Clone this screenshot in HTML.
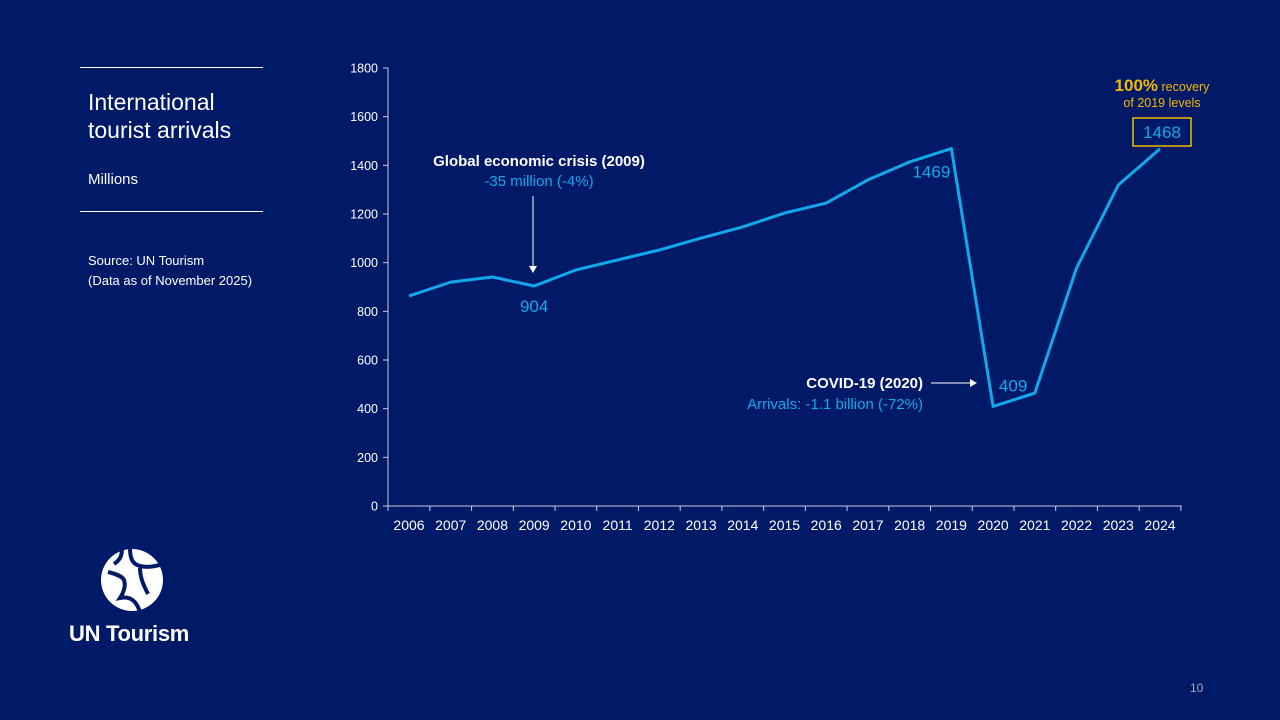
<!DOCTYPE html>
<html><head><meta charset="utf-8"><style>
body{margin:0;width:1280px;height:720px;background:#011a68;overflow:hidden;font-family:"Liberation Sans",Arial,sans-serif;position:relative;color:#fff}
.a{position:absolute}
</style></head><body>
<div class="a" style="left:80px;top:67px;width:183px;height:1px;background:#fff"></div>
<div class="a" style="left:88px;top:88px;font-size:23px;line-height:28px">International<br>tourist arrivals</div>
<div class="a" style="left:88px;top:171px;font-size:15px">Millions</div>
<div class="a" style="left:80px;top:211px;width:183px;height:1px;background:#fff"></div>
<div class="a" style="left:88px;top:251px;font-size:13px;line-height:20px">Source: UN Tourism<br>(Data as of November 2025)</div>
<svg class="a" style="left:100px;top:548px" width="64" height="64" viewBox="0 0 64 64">
<circle cx="32" cy="32" r="31" fill="#fff"/>
<path d="M22 0 C22 8 20 12 14 16 M30 0 C30 10 32 16 40 18 C48 20 56 18 64 16 M8 24 C16 26 22 28 24 32 C26 38 24 44 20 50 C30 48 36 52 40 64 M40 20 C40 30 44 38 48 46" stroke="#011a68" stroke-width="4" fill="none"/>
</svg>
<div class="a" style="left:69px;top:621px;font-size:22px;font-weight:bold;letter-spacing:-0.3px">UN Tourism</div>
<div class="a" style="left:1190px;top:681px;font-size:12px;color:#aab">10</div>
<svg id="chart" class="a" style="left:0;top:0" width="1280" height="720"></svg>
<script>
const years=["2006","2007","2008","2009","2010","2011","2012","2013","2014","2015","2016","2017","2018","2019","2020","2021","2022","2023","2024"];
const arrivals=[863,920,941,904,970,1011,1052,1101,1147,1204,1245,1340,1414,1469,409,464,978,1319,1468];
const yTicks=[0,200,400,600,800,1000,1200,1400,1600,1800];
const NS="http://www.w3.org/2000/svg";
const svg=document.getElementById('chart');
const x=i=>409+i*(1160-409)/18;
const y=v=>506-v*(438/1800);
function el(t,a,txt){const e=document.createElementNS(NS,t);for(const k in a)e.setAttribute(k,a[k]);if(txt!==undefined)e.textContent=txt;svg.appendChild(e);return e;}
let e=el('line',{x1:388,y1:68,x2:388,y2:506,stroke:'#ccd',"stroke-width":1});

e=el('line',{x1:388,y1:506,x2:1182,y2:506,stroke:'#ccd',"stroke-width":1});

yTicks.forEach(v=>{
 el('line',{x1:383,x2:388,y1:y(v),y2:y(v),stroke:'#ccd'});
 const t=el('text',{x:378,y:y(v)+4.5,"text-anchor":"end",fill:'#fff',"font-size":12.5},v);
 
});
years.forEach((yr,i)=>{
 el('line',{x1:x(i)+20.86,x2:x(i)+20.86,y1:506,y2:511,stroke:'#ccd'});
 const t=el('text',{x:x(i),y:530,"text-anchor":"middle",fill:'#fff',"font-size":14},yr);
 
});
el('line',{x1:388,x2:388,y1:506,y2:511,stroke:'#ccd'});
const p=el('polyline',{points:arrivals.map((v,i)=>x(i)+','+y(v)).join(' '),fill:'none',stroke:'#12a8ea',"stroke-width":3,"stroke-linejoin":"round"});

function lab(t,xx,yy,opt,name){const e=el('text',Object.assign({x:xx,y:yy,fill:'#12a8ea',"font-size":17,"text-anchor":"middle"},opt||{}),t);return e;}
lab(arrivals[3],x(3),y(arrivals[3])+26,{},'label-2009');
lab(arrivals[13],x(13)-20,y(arrivals[13])+29,{},'label-2019');
lab(arrivals[14],x(14)+20,y(arrivals[14])-15,{},'label-2020');
const b=el('rect',{x:1133,y:118,width:58,height:28,fill:'none',stroke:'#f5b800',"stroke-width":1.5});

lab(arrivals[18],1162,138,{},'label-2024');
lab('Global economic crisis (2009)',539,166,{fill:'#fff',"font-weight":"bold","font-size":15},'crisis-annotation-title');
lab('-35 million (-4%)',539,186,{"font-size":15},'crisis-annotation-detail');
el('line',{x1:533,x2:533,y1:196,y2:266,stroke:'#fff'});
el('path',{d:'M529,266 L537,266 L533,273 Z',fill:'#fff'});
lab('COVID-19 (2020)',923,388,{fill:'#fff',"font-weight":"bold","font-size":15,"text-anchor":"end"},'covid-annotation-title');
lab('Arrivals: -1.1 billion (-72%)',923,409,{"font-size":15,"text-anchor":"end"},'covid-annotation-detail');
el('line',{x1:931,x2:970,y1:383,y2:383,stroke:'#fff'});
el('path',{d:'M970,379 L977,383 L970,387 Z',fill:'#fff'});
const r=el('text',{x:1162,y:91,fill:'#f5b800',"text-anchor":"middle","font-size":12.5});

r.innerHTML='<tspan font-size="17" font-weight="bold">100%</tspan> recovery';
lab('of 2019 levels',1162,107,{fill:'#f5b800',"font-size":12.5},'recovery-annotation-line2');
</script>
</body></html>
